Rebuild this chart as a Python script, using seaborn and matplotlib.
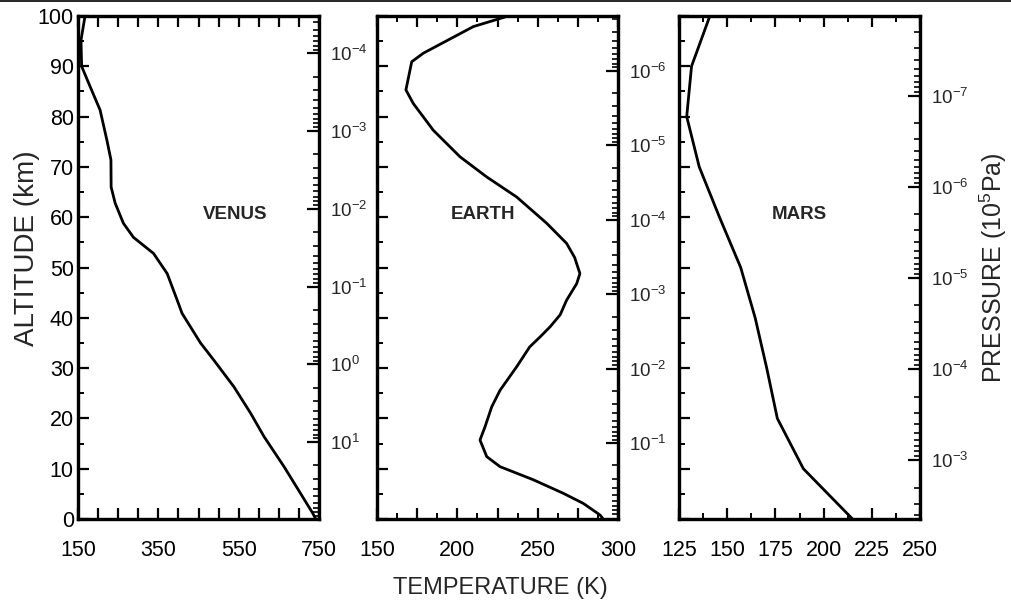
import numpy as np
import matplotlib
matplotlib.use("Agg")
import matplotlib.pyplot as plt
import matplotlib.ticker as mticker
from matplotlib.lines import Line2D
import seaborn as sns

# ---------------- data ----------------
venus_alt = [100, 95.2, 90, 86, 81.3, 75.3, 71.4, 66, 62.8, 58.8, 56, 52.8, 48.8,
             43.5, 40.9, 35, 31.6, 26.3, 21, 16.4, 10.4, 1.2, 0]
venus_temp = [167.5, 157.5, 159, 180, 205, 222, 232, 232.5, 242.5, 263, 288, 338, 372,
              397, 409, 455, 488, 538, 580, 613, 663, 734, 742]

earth_alt = [100, 97.9, 92.6, 90.9, 85.3, 82.6, 77.3, 72, 68, 64, 58.8, 54.8, 52,
             48.8, 46.8, 43.5, 40.6, 38.2, 36.2, 34.2, 30.3, 25.6, 22.3, 18.3, 15.7,
             12.4, 10.4, 7.8, 5.1, 3.1, 0.8, 0]
earth_temp = [231.7, 210, 178.8, 171.6, 168, 172.6, 185, 201.7, 218.3, 237, 255.6, 268, 273,
              276.3, 274.3, 268, 264, 257.7, 251.5, 245, 237, 226.6, 221.4, 217.2, 214.1,
              218.3, 226.6, 247.3, 266, 278.4, 288.8, 290.8]

mars_alt = [100, 90, 80, 70, 60, 50, 40, 30, 20, 10, 0]
mars_temp = [141, 131.5, 129, 135.5, 146, 157, 164.5, 170.5, 176, 189.5, 215]

planet_names = ["VENUS", "EARTH", "MARS"]
name_temp = [542, 216, 187.5]
name_alt = [60.5, 60.5, 60.5]

# temperature axis ranges / tick labels
venus_xlim = [150, 750]
venus_xlabels = [150, 350, 550, 750]
earth_xlim = [150, 300]
earth_xlabels = [150, 200, 250, 300]
mars_xlim = [125, 250]
mars_xlabels = [125, 150, 175, 200, 225, 250]

altitude_labels = [0, 10, 20, 30, 40, 50, 60, 70, 80, 90, 100]

# pressure (bar = 10^5 Pa) decade ticks and the altitudes of two reference levels
venus_p_ticks = [1e-4, 1e-3, 1e-2, 1e-1, 1e0, 1e1]
venus_p_ref = [1e-4, 1e1]
venus_p_ref_alt = [92.6, 15.3]
earth_p_ticks = [1e-6, 1e-5, 1e-4, 1e-3, 1e-2, 1e-1]
earth_p_ref = [1e-6, 1e-1]
earth_p_ref_alt = [89.1, 15.1]
mars_p_ticks = [1e-7, 1e-6, 1e-5, 1e-4, 1e-3]
mars_p_ref = [1e-7, 1e-3]
mars_p_ref_alt = [84.1, 11.7]

# ---------------- style ----------------
sns.set_style("white")
plt.rcParams["font.family"] = ["Liberation Sans", "DejaVu Sans"]
plt.rcParams["mathtext.fontset"] = "custom"
plt.rcParams["mathtext.rm"] = "Liberation Sans"
plt.rcParams["mathtext.it"] = "Liberation Sans:italic"
plt.rcParams["mathtext.bf"] = "Liberation Sans:bold"

W, H = 1011, 603
fig = plt.figure(figsize=(W / 100, H / 100), dpi=100)
fig.patch.set_facecolor("white")

panel_left_px = [78, 377, 679]
panel_w_px = 241
top_px, bot_px = 16, 519

temps = [venus_temp, earth_temp, mars_temp]
alts = [venus_alt, earth_alt, mars_alt]
xlims = [venus_xlim, earth_xlim, mars_xlim]
xlabs = [venus_xlabels, earth_xlabels, mars_xlabels]
xmajor = [50, 25, 25]
xminor = [None, 12.5, 12.5]
pticks = [venus_p_ticks, earth_p_ticks, mars_p_ticks]
prefs = [venus_p_ref, earth_p_ref, mars_p_ref]
prefalt = [venus_p_ref_alt, earth_p_ref_alt, mars_p_ref_alt]

SPW = 2.3
for i in range(3):
    ax = fig.add_axes([panel_left_px[i] / W, 1 - bot_px / H,
                       panel_w_px / W, (bot_px - top_px) / H])
    sns.lineplot(x=temps[i], y=alts[i], sort=False, estimator=None,
                 color="black", linewidth=2.0, ax=ax)
    ax.set_xlim(*xlims[i])
    ax.set_ylim(0, 100)
    for s in ax.spines.values():
        s.set_linewidth(SPW)
        s.set_color("black")

    # x ticks
    ax.xaxis.set_major_locator(mticker.MultipleLocator(xmajor[i]))
    labset = set(xlabs[i])
    ax.xaxis.set_major_formatter(mticker.FuncFormatter(
        lambda v, p, labset=labset: f"{v:g}" if round(v, 3) in labset else ""))
    if xminor[i]:
        ax.xaxis.set_minor_locator(mticker.MultipleLocator(xminor[i]))
    # y ticks (altitude)
    ax.yaxis.set_major_locator(mticker.FixedLocator(altitude_labels))
    ax.yaxis.set_minor_locator(mticker.MultipleLocator(5))
    ax.tick_params(axis="both", which="major", direction="in", length=8, width=1.6,
                   color="black", labelcolor="black")
    ax.tick_params(axis="both", which="minor", direction="in", length=4, width=1.4,
                   color="black")
    ax.tick_params(axis="x", which="both", top=True, bottom=True, labelsize=15.5, pad=15)
    ax.tick_params(axis="y", which="both", left=True, right=False, labelsize=15.5, pad=3,
                   labelleft=(i == 0))
    ax.set_xlabel("")
    ax.set_ylabel("")

    ax.text(name_temp[i], name_alt[i], planet_names[i], ha="center", va="center",
            fontsize=13.5, fontweight="bold")

    # pressure axis (log, decreasing upward)
    ax2 = ax.twinx()
    ax2.set_yscale("log")
    lp = np.log10(prefs[i])
    slope = (lp[1] - lp[0]) / (prefalt[i][1] - prefalt[i][0])
    lp0 = lp[0] + slope * (0 - prefalt[i][0])
    lp100 = lp[0] + slope * (100 - prefalt[i][0])
    ax2.set_ylim(10 ** lp0, 10 ** lp100)
    ax2.yaxis.set_major_locator(mticker.FixedLocator(pticks[i]))
    ax2.yaxis.set_major_formatter(mticker.LogFormatterMathtext())
    ax2.yaxis.set_minor_locator(mticker.LogLocator(base=10, subs=np.arange(2, 10), numticks=50))
    ax2.yaxis.set_minor_formatter(mticker.NullFormatter())
    ax2.tick_params(axis="y", which="major", direction="in", length=9, width=1.6,
                    labelsize=13.5, pad=8, right=True, left=False, color="black")
    ax2.tick_params(axis="y", which="minor", direction="in", length=4, width=1.2,
                    right=True, left=False, color="black")
    for s in ax2.spines.values():
        s.set_linewidth(SPW)
        s.set_color("black")
    ax2.grid(False)
    ax.grid(False)

fig.text(27 / W, 1 - 248 / H, "ALTITUDE (km)", rotation=90, ha="center", va="center",
         fontsize=20)
fig.text(500 / W, 1 - 588 / H, "TEMPERATURE (K)", ha="center", va="center", fontsize=17)
fig.text(993 / W, 1 - 268 / H, r"PRESSURE (10$^{5}$Pa)", rotation=90, ha="center",
         va="center", fontsize=18)

fig.add_artist(Line2D([0, 1], [1 - 1 / H, 1 - 1 / H], transform=fig.transFigure,
                      color="black", linewidth=1.2))

fig.savefig("out.png", dpi=100)
